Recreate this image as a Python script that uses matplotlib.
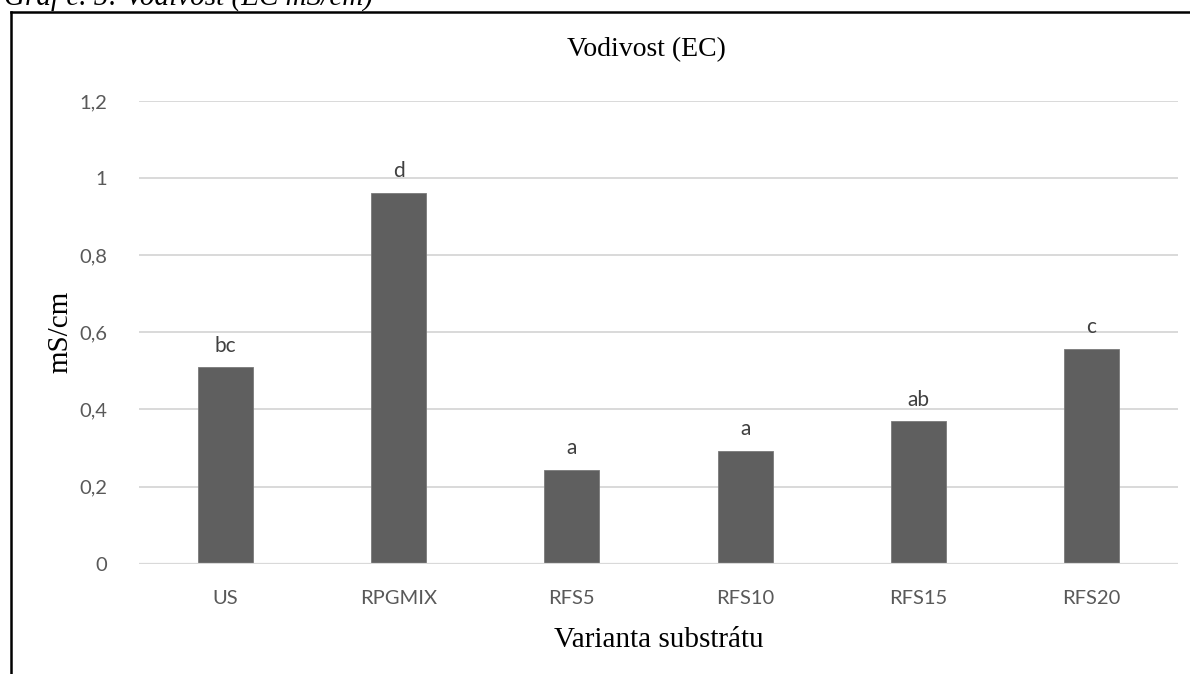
import numpy as np
import matplotlib.pyplot as plt
from matplotlib.lines import Line2D

varianty = ['US', 'RPGMIX', 'RFS5', 'RFS10', 'RFS15', 'RFS20']
vodivost = [0.509, 0.962, 0.244, 0.293, 0.369, 0.558]
pismena = ['bc', 'd', 'a', 'a', 'ab', 'c']
yticks = [0, 0.2, 0.4, 0.6, 0.8, 1.0, 1.2]
ytick_labels = ['0', '0,2', '0,4', '0,6', '0,8', '1', '1,2']

sans = ['Lato', 'DejaVu Sans']
serif = ['Liberation Serif', 'DejaVu Serif']

fig = plt.figure(figsize=(11.9, 6.74), dpi=100)
ax = fig.add_axes([139 / 1190, 1 - 563.7 / 674, 1039 / 1190, (563.7 - 101) / 674])

x = np.arange(len(varianty))
ax.bar(x, vodivost, width=0.317, color='#5f5f5f', edgecolor='#7a7a7a', linewidth=0.6, zorder=3)
for xi, v, p in zip(x, vodivost, pismena):
    ax.text(xi, v + 0.03, p, ha='center', va='bottom', fontsize=15,
            color='#404040', family=sans)

ax.set_xlim(-0.5, len(varianty) - 0.5)
ax.set_ylim(0, 1.2)
ax.set_yticks(yticks)
ax.set_yticklabels(ytick_labels, family=sans, fontsize=14.5, color='#595959')
ax.set_xticks(x)
ax.set_xticklabels(varianty, family=sans, fontsize=14.5, color='#595959')
ax.tick_params(length=0)
ax.tick_params(axis='y', pad=23)
ax.tick_params(axis='x', pad=19)
ax.grid(axis='y', color='#d9d9d9', linewidth=1.4, zorder=0)
for s in ax.spines.values():
    s.set_visible(False)
ax.axhline(0, color='#d9d9d9', linewidth=1.6, zorder=4)

ax.set_ylabel('mS/cm', family=serif, fontsize=21, labelpad=4)
ax.set_xlabel('Varianta substrátu', family=serif, fontsize=21, labelpad=14)
fig.text(646 / 1190, 1 - 50 / 674, 'Vodivost (EC)', ha='center', va='center',
         family=serif, fontsize=20)

# popisek nad rámečkem (v předloze oříznutý)
fig.text(4 / 1190, 1 - 5 / 674, 'Graf č. 5: Vodivost (EC mS/cm)', ha='left',
         va='baseline', family=serif, style='italic', fontsize=21)

# rámeček
fig.add_artist(Line2D([11 / 1190, 11 / 1190], [-0.1, 1 - 12 / 674], transform=fig.transFigure,
                      color='black', linewidth=1.8))
fig.add_artist(Line2D([11 / 1190, 1.1], [1 - 12 / 674, 1 - 12 / 674], transform=fig.transFigure,
                      color='black', linewidth=1.8))

fig.savefig('out.png', dpi=100)
